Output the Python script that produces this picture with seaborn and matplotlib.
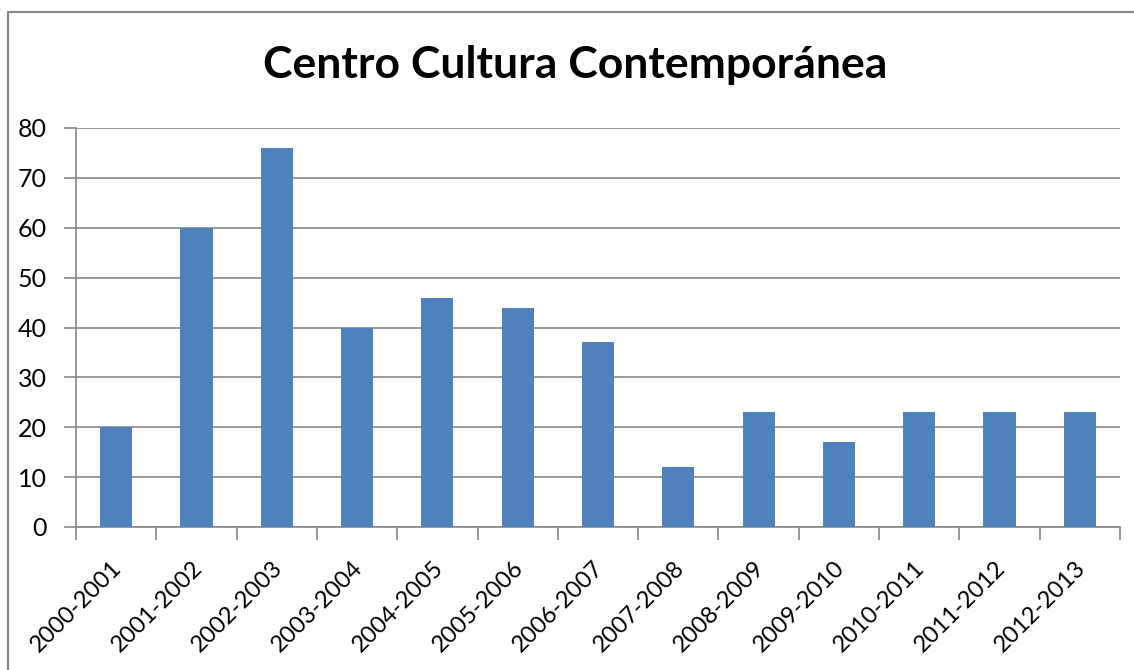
import matplotlib
matplotlib.use("Agg")
import matplotlib.pyplot as plt
import matplotlib.transforms as mtransforms
import seaborn as sns
import pandas as pd
import numpy as np
from matplotlib.patches import Rectangle

categories = ["2000-2001", "2001-2002", "2002-2003", "2003-2004", "2004-2005",
              "2005-2006", "2006-2007", "2007-2008", "2008-2009", "2009-2010",
              "2010-2011", "2011-2012", "2012-2013"]
values = [20, 60, 76, 40, 46, 44, 37, 12, 23, 17, 23, 23, 23]
yticks = [0, 10, 20, 30, 40, 50, 60, 70, 80]
title = "Centro Cultura Contemporánea"

sns.set_theme(style="white")
plt.rcParams['font.family'] = ['Lato', 'DejaVu Sans']

df = pd.DataFrame({"cat": categories, "val": values})

fig = plt.figure(figsize=(11.34, 6.7), dpi=100)
ax = fig.add_axes([76/1134, 1-527/670, (1120-76)/1134, (527-128)/670])

sns.barplot(data=df, x="cat", y="val", color="#4F81BD", width=0.4,
            saturation=1, ax=ax, zorder=3, linewidth=0, edgecolor="none")

grid_c = "#878787"
ax.set_ylim(0, 80)
ax.set_xlim(-0.5, len(categories) - 0.5)
ax.set_yticks(yticks)
ax.set_yticklabels([str(v) for v in yticks], fontsize=18, color="black")
ax.yaxis.grid(True, color=grid_c, linewidth=1.2, zorder=0)
ax.set_axisbelow(True)
ax.tick_params(axis='y', length=9, width=1.2, color=grid_c, pad=12, left=True)

ax.set_xticks(range(len(categories)))
ax.set_xticklabels(categories, rotation=45, ha='right', rotation_mode='anchor',
                   fontsize=17, color="black")
ax.tick_params(axis='x', which='major', length=0, pad=22)
ax.set_xticks(np.arange(-0.5, len(categories), 1.0), minor=True)
ax.tick_params(axis='x', which='minor', length=9, width=1.2, color=grid_c,
               bottom=True, direction='out')
offset = mtransforms.ScaledTranslation(-5/100, 0, fig.dpi_scale_trans)
for lbl in ax.get_xticklabels():
    lbl.set_transform(lbl.get_transform() + offset)

for s in ["top", "right"]:
    ax.spines[s].set_visible(False)
for s in ["left", "bottom"]:
    ax.spines[s].set_color(grid_c)
    ax.spines[s].set_linewidth(1.2)

ax.set_xlabel("")
ax.set_ylabel("")

fig.text(575/1134, 1 - 65/670, title, ha='center', va='center', fontsize=32,
         fontweight='bold', color="black")

fig.patches.append(Rectangle((8/1134, -0.1), 1.2, 1 - 12/670 + 0.1,
                             transform=fig.transFigure, fill=False,
                             edgecolor="#868686", linewidth=1.5))

fig.savefig("out.png", dpi=100)
